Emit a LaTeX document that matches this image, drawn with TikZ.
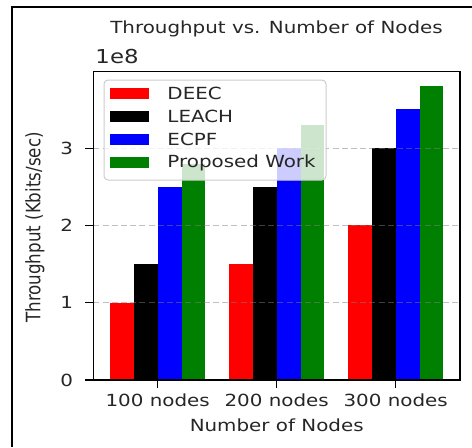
\documentclass[tikz,border=0pt]{standalone}
\usepackage{fontspec}
\setmainfont{DejaVu Sans}
\usepackage{tikz}
\usepackage{xcolor}
\definecolor{mplgreen}{RGB}{0,128,0}
\definecolor{legendedge}{RGB}{204,204,204}

\begin{document}
\begin{tikzpicture}[x=1pt,y=1pt,
        fnt/.style={font=\fontsize{8.35}{10}\selectfont, inner sep=0pt, text=black!85},
        lbl/.style={fnt, xscale=1.19},
        gridline/.style={gray, opacity=0.5, line width=0.5pt, dash pattern=on 3pt off 1.6pt}]
        \useasboundingbox (0,0) rectangle (236,223.5);
        \draw[line width=1pt] (6,0) -- (6,220) -- (236,220);
        \node[lbl] (title) at (138.25,209) {Throughput vs. Number of Nodes};
        \node[lbl, font=\fontsize{9.6}{11}\selectfont, anchor=west] (mult) at (47.5,195) {1e8};
        \node[fnt, rotate=90, yscale=1.19] (ylab) at (17.5,109.75) {Throughput (Kbits/sec)};
        \begin{scope}[shift={(78.85pt,33.5pt)}, x=59.5pt, y=38.65pt]
            \foreach \g/\a/\b/\c/\d in {0/1/1.5/2.5/2.8, 1/1.5/2.5/3/3.3, 2/2/3/3.5/3.8}
            {
                \fill[red] (\g-0.4,0) rectangle (\g-0.2,\a);
                \fill[black] (\g-0.2,0) rectangle (\g,\b);
                \fill[blue] (\g,0) rectangle (\g+0.2,\c);
                \fill[mplgreen] (\g+0.2,0) rectangle (\g+0.4,\d);
            }
            \foreach \y in {1,2,3}
                \draw[gridline] (-0.54,\y) -- (2.54,\y);
            \draw[line width=0.6pt] (-0.54,0) rectangle (2.54,3.99);
            \foreach \y in {0,...,3}
            {
                \draw[line width=0.6pt] (-0.54,\y) -- ++(-4pt,0);
                \node[xshift=-10pt, lbl, anchor=east] (yt\y) at (-0.54,\y) {\y};
            }
            \foreach \g/\t in {0/100, 1/200, 2/300}
            {
                \draw[line width=0.6pt] (\g,0) -- ++(0,-4pt);
                \node[lbl] (xt\g) at (\g,-0.2665) {\t{} nodes};
            }
            \node[lbl] (xlab) at (1,-0.582) {Number of Nodes};
        \end{scope}
        % legend
        \draw[legendedge, line width=0.5pt, fill=white, fill opacity=0.8, rounded corners=2pt]
            (52,133.5) rectangle (163,183.5);
        \foreach \i/\c/\t in {0/red/DEEC, 1/black/LEACH, 2/blue/ECPF, 3/mplgreen/Proposed Work}
        {
            \fill[\c] (55,{176.85-11.55*\i-2.9}) rectangle (74.5,{176.85-11.55*\i+2.9});
            \node[lbl, anchor=west] (leg\i) at (83.5,{176.85-11.55*\i}) {\t};
        }
    \end{tikzpicture}
\end{document}
